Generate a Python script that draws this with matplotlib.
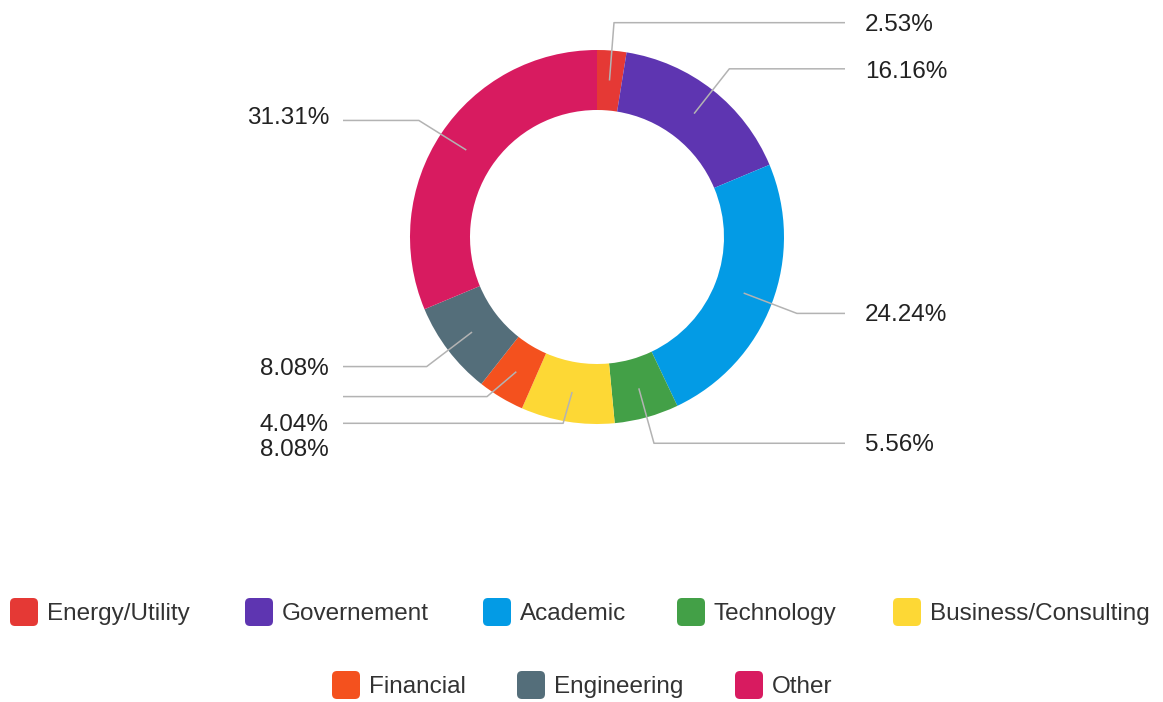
import matplotlib
matplotlib.use("Agg")
import matplotlib.pyplot as plt
import numpy as np
from matplotlib.patches import FancyBboxPatch

categories = ["Energy/Utility", "Governement", "Academic", "Technology",
              "Business/Consulting", "Financial", "Engineering", "Other"]
values = [2.53, 16.16, 24.24, 5.56, 8.08, 4.04, 8.08, 31.31]
colors = ["#E53935", "#5E35B1", "#039BE5", "#43A047",
          "#FDD835", "#F4511E", "#546E7A", "#D81B60"]
labels = [f"{v:.2f}%" for v in values]

W, H = 1163, 702
plt.rcParams['font.family'] = ['Liberation Sans', 'DejaVu Sans']

fig = plt.figure(figsize=(W / 100, H / 100), dpi=100)
ax = fig.add_axes([0, 0, 1, 1])
ax.set_xlim(0, W)
ax.set_ylim(0, H)
ax.set_aspect('equal')
ax.axis('off')

cx, cy, R, ring = 597, H - 237, 187, 60
ax.pie(values, colors=colors, startangle=90, counterclock=False,
       center=(cx, cy), radius=R, wedgeprops=dict(width=ring, linewidth=0))
ax.set_xlim(0, W)
ax.set_ylim(0, H)

# leader lines and labels
line_col = "#b3b3b3"
r_mid = R - ring / 2
r_elbow = 214
# vertical shift of the horizontal segment (pixels, screen-down positive) and label
line_shift = [-1, 0, 0, 0, -25, -24, 0, 2]
label_shift = [1, 3, 2, 2, 2, 4, 2, 0]
cum = np.cumsum([0] + values[:-1])
for i, v in enumerate(values):
    ang = np.deg2rad((cum[i] + v / 2) / 100 * 360)
    x0, y0 = cx + r_mid * np.sin(ang), cy + r_mid * np.cos(ang)
    x1, y1 = cx + r_elbow * np.sin(ang), cy + r_elbow * np.cos(ang) - line_shift[i]
    right = np.sin(ang) > 0
    x2 = 845 if right else 343
    ax.plot([x0, x1, x2], [y0, y1, y1], color=line_col, lw=1.1,
            solid_capstyle='butt', zorder=3)
    ly = cy + r_elbow * np.cos(ang) - label_shift[i]
    if right:
        ax.text(865, ly, labels[i], ha='left', va='center', fontsize=17.5, color='#222222')
    else:
        ax.text(329, ly, labels[i], ha='right', va='center', fontsize=17.5, color='#222222')

# legend
leg_x = [10, 245, 483, 677, 893, 332, 517, 735]
leg_y = [612, 612, 612, 612, 612, 685, 685, 685]
for i, name in enumerate(categories):
    x, y = leg_x[i], H - leg_y[i]
    box = FancyBboxPatch((x + 3, y - 11), 22, 22,
                         boxstyle="round,pad=3,rounding_size=5",
                         facecolor=colors[i], edgecolor='none')
    ax.add_patch(box)
    ax.text(x + 37, y - 2, name, ha='left', va='center', fontsize=17.5, color='#333333')

fig.savefig("out.png", dpi=100)
